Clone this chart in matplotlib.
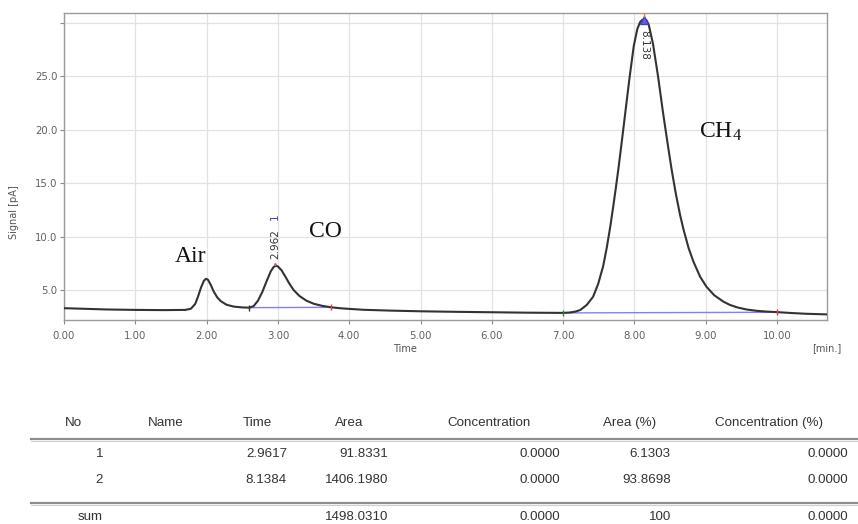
import matplotlib
matplotlib.use("Agg")
import matplotlib.pyplot as plt

plt.rcParams["mathtext.fontset"] = "custom"
plt.rcParams["mathtext.rm"] = "Liberation Serif"
plt.rcParams["mathtext.it"] = "Liberation Serif:italic"

# ---- chromatogram trace (time [min], signal [pA]) ----
trace_time = [0.00, 0.30, 0.60, 1.00, 1.40, 1.70, 1.78, 1.84, 1.88, 1.92, 1.96, 1.99,
              2.02, 2.06, 2.10, 2.15, 2.20, 2.28, 2.38, 2.50, 2.60, 2.66, 2.72, 2.78,
              2.84, 2.90, 2.94, 2.97, 3.00, 3.05, 3.10, 3.16, 3.22, 3.30, 3.40, 3.50,
              3.62, 3.75, 3.90, 4.20, 4.60, 5.00, 5.50, 6.00, 6.50, 7.00, 7.10, 7.17,
              7.24, 7.33, 7.42, 7.49, 7.56, 7.61, 7.66, 7.70, 7.74, 7.78, 7.83, 7.87,
              7.93, 7.99, 8.04, 8.08, 8.11, 8.14, 8.17, 8.20, 8.26, 8.33, 8.40, 8.46,
              8.52, 8.58, 8.64, 8.69, 8.76, 8.83, 8.92, 9.01, 9.12, 9.25, 9.34, 9.45,
              9.57, 9.72, 9.86, 10.00, 10.20, 10.40, 10.70]
trace_signal = [3.30, 3.24, 3.18, 3.14, 3.12, 3.14, 3.25, 3.70, 4.40, 5.20, 5.85, 6.05,
                5.95, 5.45, 4.85, 4.30, 3.95, 3.62, 3.45, 3.37, 3.35, 3.50, 4.00, 4.80,
                5.80, 6.75, 7.15, 7.27, 7.20, 6.85, 6.30, 5.60, 5.00, 4.45, 4.00, 3.72,
                3.52, 3.38, 3.28, 3.15, 3.07, 3.01, 2.96, 2.92, 2.88, 2.86, 2.90, 2.98,
                3.13, 3.60, 4.37, 5.55, 7.20, 8.90, 10.90, 12.70, 14.60, 16.60, 19.30, 21.50,
                24.80, 27.80, 29.40, 30.05, 30.25, 30.30, 30.20, 29.80, 28.00, 25.00, 21.60, 18.90,
                16.30, 14.00, 12.00, 10.60, 8.90, 7.60, 6.25, 5.30, 4.50, 3.90, 3.60, 3.36,
                3.18, 3.05, 2.98, 2.93, 2.85, 2.78, 2.72]

# ---- integration: peaks and baselines ----
peak_times = [2.962, 8.138]
peak_heights = [7.27, 30.30]
peak_labels = ["2.962", "8.138"]
peak_numbers = ["1", ""]
base_start_t = [2.60, 7.00]
base_start_v = [3.35, 2.86]
base_end_t = [3.75, 10.00]
base_end_v = [3.38, 2.92]

# ---- compound names ----
compound_names = ["Air", "CO", r"CH$_\mathrm{4}$"]
compound_x = [1.77, 3.66, 9.20]
compound_y = [7.62, 9.92, 19.27]

# ---- axis ticks ----
x_ticks = [0, 1, 2, 3, 4, 5, 6, 7, 8, 9, 10]
x_tick_labels = ["0.00", "1.00", "2.00", "3.00", "4.00", "5.00", "6.00", "7.00",
                 "8.00", "9.00", "10.00"]
y_ticks = [5, 10, 15, 20, 25, 30]
y_tick_labels = ["5.0", "10.0", "15.0", "20.0", "25.0", ""]

# ---- results table ----
table_headers = ["No", "Name", "Time", "Area", "Concentration", "Area (%)", "Concentration (%)"]
row_no = ["1", "2", "sum"]
row_name = ["", "", ""]
row_time = ["2.9617", "8.1384", ""]
row_area = ["91.8331", "1406.1980", "1498.0310"]
row_conc = ["0.0000", "0.0000", "0.0000"]
row_area_pct = ["6.1303", "93.8698", "100"]
row_conc_pct = ["0.0000", "0.0000", "0.0000"]

W, H = 858, 524
fig = plt.figure(figsize=(W / 100, H / 100), dpi=100)
fig.patch.set_facecolor("white")

ax = fig.add_axes([64 / W, (H - 320) / H, 763 / W, 307 / H])
ax.set_xlim(0, 10.70)
ax.set_ylim(2.196, 30.89)

ax.grid(True, color="#e2e2e2", linewidth=0.9)
ax.set_axisbelow(True)
for s in ax.spines.values():
    s.set_color("#9a9a9a")
    s.set_linewidth(1.0)

ax.set_xticks(x_ticks)
ax.set_xticklabels(x_tick_labels)
ax.set_yticks(y_ticks)
ax.set_yticklabels(y_tick_labels)
ax.tick_params(axis="both", colors="#8a8a8a", labelcolor="#606060", labelsize=7.3,
               length=3, width=0.8)
ax.tick_params(axis="x", pad=5)
ax.tick_params(axis="y", pad=1.5)

# baselines
for ts, vs, te, ve in zip(base_start_t, base_start_v, base_end_t, base_end_v):
    ax.plot([ts, te], [vs, ve], color="#8080ff", linewidth=1.0, zorder=2)
ax.plot([base_start_t[0]], [base_start_v[0]], marker="|", color="#333333", ms=4, zorder=4)
ax.plot([base_start_t[1]], [base_start_v[1]], marker="|", color="#2a8a2a", ms=4, zorder=4)
ax.plot(base_end_t, base_end_v, marker="|", color="#e04040", ms=4, ls="none", zorder=4)

# trace
ax.plot(trace_time, trace_signal, color="#333333", linewidth=1.5, zorder=3,
        solid_joinstyle="round")

# peak markers
ax.plot([peak_times[1]], [peak_heights[1] - 0.1], marker="^", color="#4040c0", ms=6,
        mfc="#6060e0", ls="none", zorder=4)
ax.plot([peak_times[1]], [30.8], marker="|", color="#e08040", ms=4, zorder=5)
ax.plot([peak_times[0]], [peak_heights[0] + 0.2], marker=".", color="#e06060", ms=2, zorder=5)

# peak annotations
ax.text(peak_times[0], peak_heights[0] + 0.6, peak_labels[0], rotation=90, ha="center",
        va="bottom", fontsize=7.5, color="#333333")
ax.text(peak_times[0], peak_heights[0] + 4.3, peak_numbers[0], rotation=90, ha="center",
        va="bottom", fontsize=7.5, color="#4040c0")
ax.text(peak_times[1], peak_heights[1] - 1.0, peak_labels[1], rotation=270, ha="center",
        va="top", fontsize=7.5, color="#333333")

# compound names
for name, x, y in zip(compound_names, compound_x, compound_y):
    ax.text(x, y, name, ha="center", va="baseline", fontsize=17,
            family="Liberation Serif", color="#111111")

# axis labels
fig.text(14 / W, 1 - 212 / H, "Signal [pA]", rotation=90, ha="center", va="center",
         fontsize=7, color="#555555")
fig.text(405 / W, 1 - 349 / H, "Time", ha="center", va="center", fontsize=7, color="#555555")
fig.text(827 / W, 1 - 348 / H, "[min.]", ha="center", va="center", fontsize=7, color="#555555")

# table
tfont = dict(fontsize=9.6, family="Liberation Sans", color="#333333")
header_left = [65, 148, 243, 335, 447, 603, 715]
header_y = 423
for h, x in zip(table_headers, header_left):
    fig.text(x / W, 1 - header_y / H, h, ha="left", va="center", **tfont)

col_right = [103, 200, 287, 388, 560, 671, 848]
row_y = [454, 480, 517]
columns = [row_no, row_name, row_time, row_area, row_conc, row_area_pct, row_conc_pct]
for col, xr in zip(columns, col_right):
    for val, y in zip(col, row_y):
        if val:
            fig.text(xr / W, 1 - y / H, val, ha="right", va="center", **tfont)

for ly in [439, 503]:
    fig.add_artist(plt.Line2D([31 / W, 1.0], [1 - ly / H, 1 - ly / H], color="#8c8c8c",
                              linewidth=1.6, transform=fig.transFigure))
    fig.add_artist(plt.Line2D([31 / W, 1.0], [1 - (ly + 1.5) / H, 1 - (ly + 1.5) / H],
                              color="#cfcfcf", linewidth=0.8, transform=fig.transFigure))

fig.savefig("out.png", dpi=100, facecolor="white")
